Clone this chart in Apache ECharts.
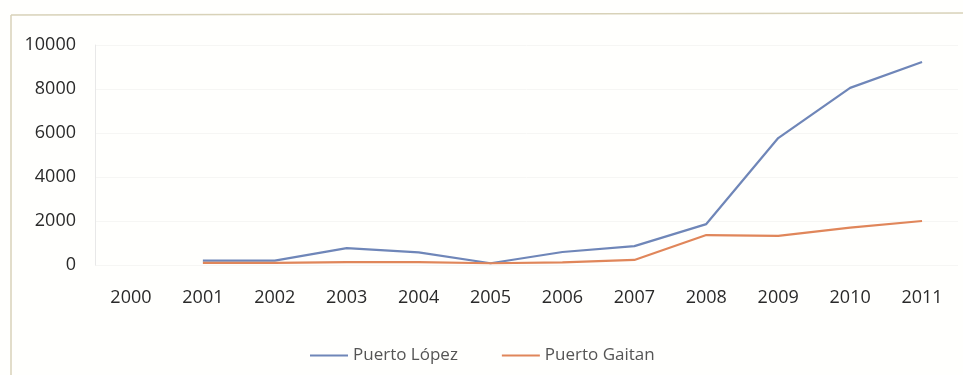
<!DOCTYPE html>
<html>
<head>
<meta charset="utf-8">
<style>
  html, body { margin: 0; padding: 0; background: #fffffd; }
  #chart { width: 963px; height: 375px; }
</style>
<script src="https://cdn.jsdelivr.net/npm/echarts@6/dist/echarts.min.js"></script>
</head>
<body>
<div id="chart"></div>
<script>
// Years on the category axis
const years = ['2000', '2001', '2002', '2003', '2004', '2005', '2006', '2007', '2008', '2009', '2010', '2011'];

// Yearly values per municipality (no value for 2000)
const puertoLopez  = [null, 200, 200, 770, 570, 80, 590, 860, 1860, 5770, 8050, 9230];
const puertoGaitan = [null, 100, 100, 130, 130, 80, 120, 230, 1360, 1320, 1700, 2000];

// Value axis ticks
const yTicks = [0, 2000, 4000, 6000, 8000, 10000];

const chart = echarts.init(document.getElementById('chart'));
const labelFont = { fontFamily: 'Open Sans', fontSize: 18, color: '#2a2a2a' };

chart.setOption({
  backgroundColor: '#fffffd',
  animation: false,
  graphic: [
    { type: 'line', shape: { x1: 11, y1: 15, x2: 11, y2: 375 }, style: { stroke: '#d8d2b8', lineWidth: 1.5 } },
    { type: 'line', shape: { x1: 11, y1: 15, x2: 963, y2: 13 }, style: { stroke: '#d8d2b8', lineWidth: 1.5 } }
  ],
  grid: { left: 95, right: 5, top: 45, bottom: 110, containLabel: false },
  legend: {
    top: 342,
    left: 305,
    itemWidth: 38,
    itemHeight: 2,
    itemGap: 44,
    icon: 'rect',
    textStyle: { fontFamily: 'Open Sans', fontSize: 17, color: '#555' },
    data: ['Puerto López', 'Puerto Gaitan']
  },
  xAxis: {
    type: 'category',
    data: years,
    boundaryGap: true,
    axisLine: { show: false },
    axisTick: { show: false },
    axisLabel: Object.assign({ margin: 24 }, labelFont)
  },
  yAxis: {
    type: 'value',
    min: yTicks[0],
    max: yTicks[yTicks.length - 1],
    interval: 2000,
    axisLine: { show: true, lineStyle: { color: '#e8e8e8' } },
    axisTick: { show: false },
    splitLine: { show: true, lineStyle: { color: '#f6f6f4' } },
    axisLabel: Object.assign({ margin: 19, formatter: v => String(v) }, labelFont)
  },
  series: [
    {
      name: 'Puerto López',
      type: 'line',
      data: puertoLopez,
      symbol: 'none',
      lineStyle: { width: 2.2, color: '#6f86b8' },
      itemStyle: { color: '#6f86b8' }
    },
    {
      name: 'Puerto Gaitan',
      type: 'line',
      data: puertoGaitan,
      symbol: 'none',
      lineStyle: { width: 2.2, color: '#e0865a' },
      itemStyle: { color: '#e0865a' }
    }
  ]
});
</script>
</body>
</html>
